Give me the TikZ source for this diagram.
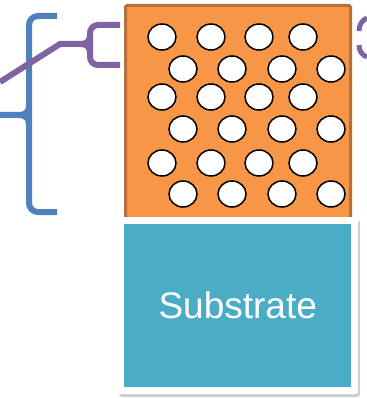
\documentclass[tikz,border=0pt]{standalone}
\usepackage{fontspec}
\usetikzlibrary{shapes.geometric}
\setmainfont{Liberation Sans}
\definecolor{orfill}{HTML}{F79646}
\definecolor{ordraw}{HTML}{B5703A}
\definecolor{teal2}{HTML}{4BACC6}
\definecolor{bracblue}{HTML}{4F81BD}
\definecolor{bracpurp}{HTML}{8064A2}
\begin{document}
\begin{tikzpicture}[x=1pt,y=-1pt,
  pore/.style={draw=black,line width=1.5pt,fill=white,ellipse,minimum width=28pt,minimum height=26pt,inner sep=0pt},
  bluebr/.style={draw=bracblue,line width=6pt},
  purpbr/.style={draw=bracpurp,line width=6pt}]
\useasboundingbox (0,0) rectangle (366,398);
% film
\node[draw=ordraw,fill=orfill,line width=3pt,rounded corners=1.5pt,minimum width=225pt,minimum height=213pt,inner sep=0pt,anchor=north west] (film) at (124,4) {};
% substrate card
\fill[black!20,rounded corners=3pt] (119,220) rectangle (360,397);
\node[fill=white,rounded corners=3pt,minimum width=241pt,minimum height=177pt,inner sep=0pt,anchor=north west] (card) at (117,217) {};
\node[fill=teal2,minimum width=227pt,minimum height=163pt,inner sep=0pt,anchor=north west,text=white,font=\fontsize{37}{42}\selectfont] (sub) at (124,224) {Substrate};
% pores
\foreach \y [count=\r] in {37,97,163}{
  \foreach \x [count=\c] in {162,211,259,303}{
    \node[pore] (pa\r\c) at (\x,\y) {};
  }
}
\foreach \y [count=\r] in {69,129,194}{
  \foreach \x [count=\c] in {183,232,282,331}{
    \node[pore] (pb\r\c) at (\x,\y) {};
  }
}
% blue brace
\draw[bluebr,rounded corners=9pt] (57,16) -- (29,16) -- (29,212) -- (57,212);
\draw[bluebr] (0,115) -- (18,115) .. controls (26,115) and (29,112) .. (29,105);
\draw[bluebr] (18,115) .. controls (26,115) and (29,118) .. (29,125);
% purple brace
\draw[purpbr,rounded corners=8pt] (120,25) -- (90,25) -- (90,65) -- (120,65);
\draw[purpbr] (0,82) -- (60,44) -- (80,44) .. controls (87,44) and (90,41) .. (90,35);
\draw[purpbr] (80,44) .. controls (87,44) and (90,47) .. (90,53);
% right purple fragment
\draw[draw=bracpurp,line width=5pt] (367,18) .. controls (362,20) and (359,25) .. (359,31);
\draw[draw=bracpurp,line width=5pt] (359,45) .. controls (359,51) and (362,55) .. (367,57);
\end{tikzpicture}
\end{document}
